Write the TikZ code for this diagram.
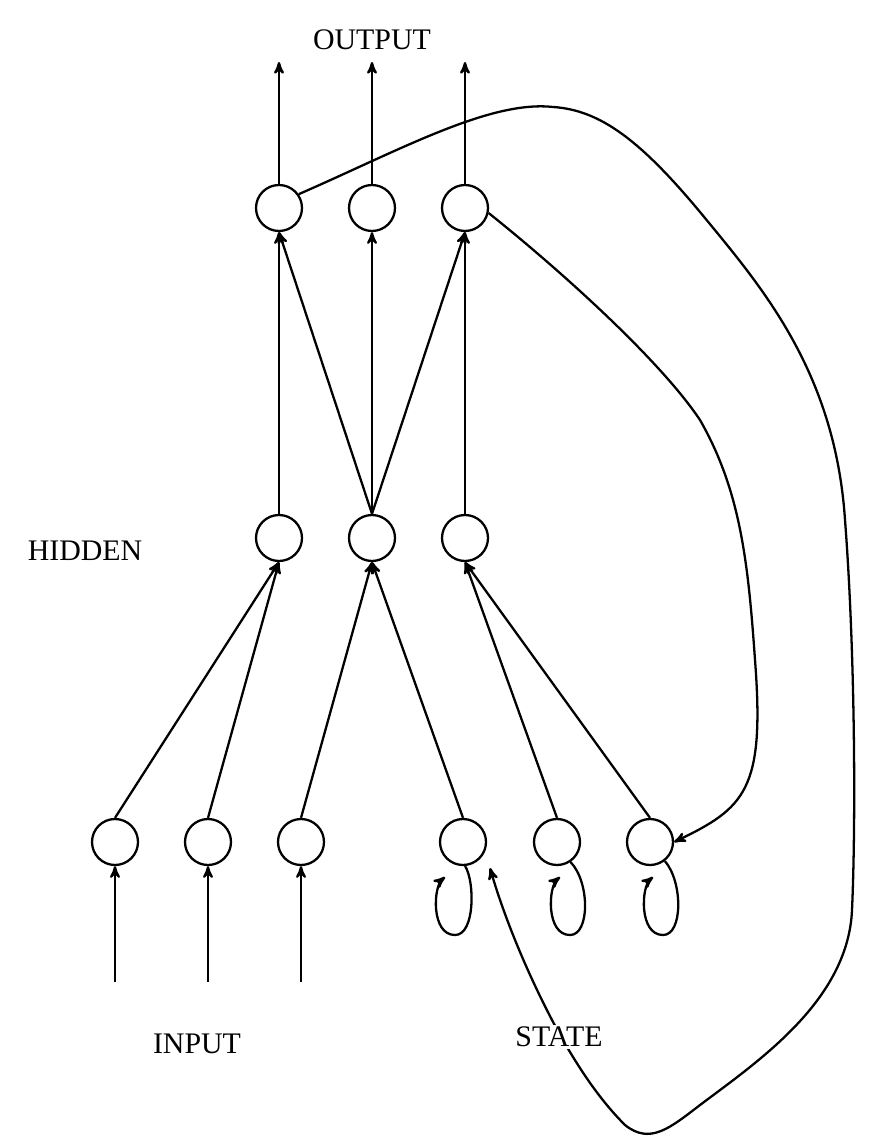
\documentclass[tikz,border=0pt]{standalone}
\usepackage{fontspec}
\setmainfont{Liberation Serif}
\usepackage{tikz}
\usetikzlibrary{arrows,shapes}
\usetikzlibrary{calc}
\tikzstyle{unit}=[circle,draw,line width=1.3pt,minimum size=0.92cm,inner sep=0pt]
\tikzstyle{edge} = [draw,line width=1.3pt,->]
\tikzstyle{layer} = [font=\fontsize{17}{20}\selectfont]

\begin{document}
\begin{tikzpicture}[x=0.02cm,y=-0.02cm,>=stealth']
    \useasboundingbox (0,0) rectangle (894,1148);
    % Draw the recurrent network
    % First we draw the units
    \node[layer] (outlbl) at (372, 40) {OUTPUT};
    \node[layer] (hidlbl) at (85, 551) {HIDDEN};
    \node[layer] (inlbl) at (197, 1044) {INPUT};

    \foreach \pos/\name in {{(279,208)/O1}, {(372,208)/O2}, {(465,208)/O3},
                            {(279,538)/H1}, {(372,538)/H2}, {(465,538)/H3},
                            {(115,842)/I1}, {(208,842)/I2}, {(301,842)/I3},
                            {(463,842)/S1}, {(557,842)/S2}, {(650,842)/S3}}
        \node[unit] (\name) at \pos {};

    % Free ends of the outer arrows
    \foreach \pos/\name in {{(279,62)/out1}, {(372,62)/out2}, {(465,62)/out3},
                            {(115,982)/in1}, {(208,982)/in2}, {(301,982)/in3},
                            {(490,868)/sin}}
        \path \pos coordinate (\name);

    % Connect units with edges
    \foreach \source/\dest in {O1/out1, O2/out2, O3/out3}
        \path[edge] (\source.north) -- (\dest);
    \foreach \source/\dest in {in1/I1, in2/I2, in3/I3}
        \path[edge] (\source) -- (\dest.south);
    \foreach \source/\dest in {H1/O1, H2/O1, H2/O2, H2/O3, H3/O3,
                               I1/H1, I2/H1, I3/H2, S1/H2, S2/H3, S3/H3}
        \path[edge] (\source.north) -- (\dest.south);

    % Self loops on the state units
    \foreach \name/\dx/\ang in {S1/-8/-85, S2/13/-56, S3/13/-52}{
        \coordinate (\name loop) at ($(\name)+(\dx,0)$);
        \path[edge] (\name.\ang) .. controls ($(\name loop)+(20,40)$) and ($(\name loop)+(20,93)$)
            .. ($(\name loop)+(0,93)$) .. controls ($(\name loop)+(-24,93)$) and ($(\name loop)+(-22,45)$)
            .. ($(\name loop)+(-10,35)$);
    }

    % Feedback from the output layer
    \path[edge] (O3.-12) .. controls (560,270) and (660,360) .. (700,420)
        .. controls (740,490) and (748,560) .. (755,660)
        .. controls (765,790) and (745,808) .. (S3.east);
    \path[edge] (O1.35) .. controls (400,150) and (490,100) .. (553,107)
        .. controls (600,110) and (640,140) .. (700,212)
        .. controls (760,285) and (835,370) .. (845,520)
        .. controls (855,650) and (856,820) .. (852,910)
        .. controls (848,1000) and (760,1060) .. (700,1105)
        .. controls (670,1128) and (650,1145) .. (625,1125)
        .. controls (600,1100) and (580,1070) .. (560,1035)
        .. controls (530,980) and (505,920) .. (sin);
    \node[layer,fill=white,inner sep=1pt] (stlbl) at (559,1037) {STATE};
\end{tikzpicture}
\end{document}
